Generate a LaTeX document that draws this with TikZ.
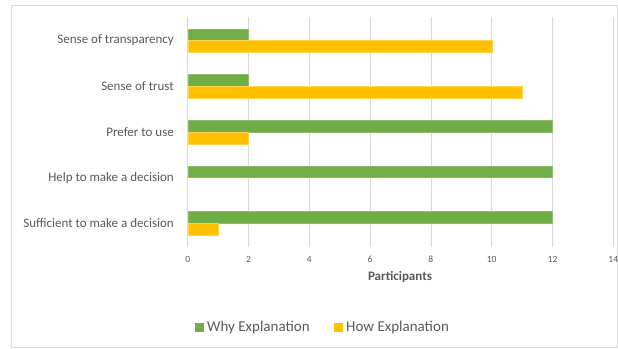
\documentclass[tikz,border=0pt]{standalone}
\usepackage{fontspec}
\setmainfont{Carlito}
\definecolor{whygreen}{HTML}{70AD47}
\definecolor{howyellow}{HTML}{FFC000}
\definecolor{txtgray}{HTML}{595959}
\definecolor{gridgray}{HTML}{D9D9D9}
\tikzset{
  catlabel/.style={anchor=east,text=txtgray,font=\fontsize{13}{15}\selectfont,inner sep=0pt},
  ticklabel/.style={text=txtgray,font=\fontsize{9.5}{11}\selectfont,inner sep=0pt},
  whybar/.style={fill=whygreen,draw=whygreen!80!white,line width=0.4pt},
  howbar/.style={fill=howyellow,draw=howyellow!70!white,line width=0.4pt},
  legtext/.style={anchor=west,text=txtgray,font=\fontsize{15}{17}\selectfont,inner sep=0pt}
}
\begin{document}
\begin{tikzpicture}[x=1pt,y=-1pt]
                \useasboundingbox (0,0) rectangle (618,348);
                \draw[gridgray,line width=0.8pt] (11,5) rectangle (617,347);
                % grid and ticks
                \foreach \v in {0,2,...,14} {
                    \draw[gridgray,line width=0.7pt] ({187.7+30.4*\v},17) -- ({187.7+30.4*\v},246.5);
                    \node[ticklabel] (t\v) at ({187.7+30.4*\v},259) {\v};
                }
                \node[text=txtgray,font=\fontsize{13}{15}\selectfont\bfseries,inner sep=0pt] (xlab) at (400,277) {Participants};
                % bars: y centre / why / how
                \foreach \y/\w/\h/\lab [count=\i] in {40.5/2/10/Sense of transparency,
                                                      86.2/2/11/Sense of trust,
                                                      132/12/2/Prefer to use,
                                                      177.6/12/0/Help to make a decision,
                                                      223.3/12/1/Sufficient to make a decision} {
                    \node[catlabel] (c\i) at (174,\y) {\lab};
                    \draw[whybar] (187.7,\y-11.7) rectangle ({187.7+30.4*\w},\y);
                    \ifnum\h>0
                        \draw[howbar] (187.7,\y) rectangle ({187.7+30.4*\h},\y+11.7);
                    \fi
                }
                % legend
                \fill[whygreen] (194.5,322.5) rectangle ++(9,9);
                \node[legtext] (lw) at (207,327) {Why Explanation};
                \fill[howyellow] (333.5,322.5) rectangle ++(9,9);
                \node[legtext] (lh) at (346,327) {How Explanation};
\end{tikzpicture}
\end{document}
